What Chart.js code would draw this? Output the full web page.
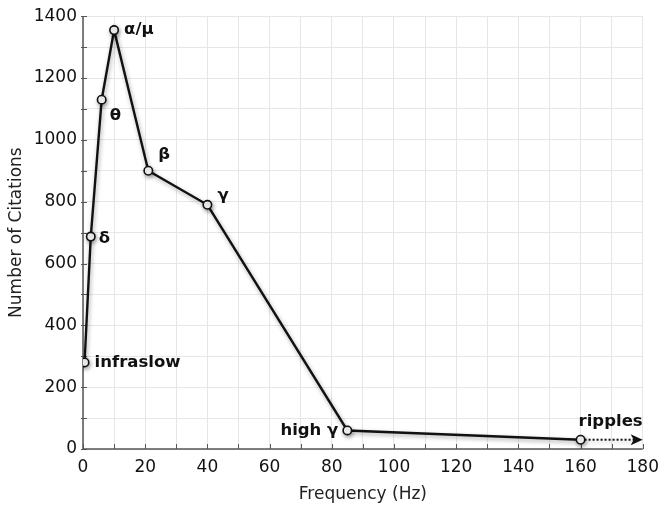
<!DOCTYPE html>
<html>
<head>
<meta charset="utf-8">
<script src="https://cdn.jsdelivr.net/npm/chart.js@4.4.1/dist/chart.umd.min.js"></script>
<style>
  html, body { margin: 0; padding: 0; background: #fff; }
  #wrap { width: 667px; height: 509px; }
</style>
</head>
<body>
<div id="wrap"><canvas id="chart" width="667" height="509"></canvas></div>
<script>
// values
const bandNames = ["infraslow", "δ", "θ", "α/μ", "β", "γ", "high γ", "ripples"];
const frequencies = [0.5, 2.5, 6, 10, 21, 40, 85, 160];
const citations = [280, 687, 1130, 1355, 900, 790, 60, 30];
const rippleTailX = [160, 179];
const rippleTailY = [30, 30];

// label placement around each point (px offsets, text align)
const labelOffsets = [
  [10, 0, "left"], [8, 2, "left"], [8, 16, "left"], [10, 0, "left"],
  [10, -16, "left"], [10, -9, "left"], [-9, 0, "right"], [-2, -18, "left"]
];

const FONT = "'DejaVu Sans', sans-serif";
const AXIS_COLOR = "#555";

const axesPlugin = {
  id: "axesPlugin",
  beforeDatasetsDraw(chart) {
    const { ctx, chartArea, scales } = chart;
    const x = scales.x, y = scales.y;
    ctx.save();
    ctx.strokeStyle = AXIS_COLOR;
    ctx.lineWidth = 1.5;
    ctx.beginPath();
    ctx.moveTo(chartArea.left, chartArea.top);
    ctx.lineTo(chartArea.left, chartArea.bottom);
    ctx.lineTo(chartArea.right, chartArea.bottom);
    ctx.stroke();
    ctx.lineWidth = 1;
    ctx.beginPath();
    x.ticks.forEach((t) => {
      const px = Math.round(x.getPixelForValue(t.value)) + 0.5;
      ctx.moveTo(px, chartArea.bottom);
      ctx.lineTo(px, chartArea.bottom - 5);
    });
    y.ticks.forEach((t) => {
      const py = Math.round(y.getPixelForValue(t.value)) + 0.5;
      ctx.moveTo(chartArea.left - 2, py);
      ctx.lineTo(chartArea.left + 4, py);
    });
    ctx.stroke();
    ctx.restore();
  },
  beforeDatasetDraw(chart) {
    const ctx = chart.ctx;
    ctx.save();
    ctx.shadowColor = "rgba(0,0,0,0.35)";
    ctx.shadowBlur = 4;
    ctx.shadowOffsetX = 1;
    ctx.shadowOffsetY = 2;
  },
  afterDatasetDraw(chart) {
    chart.ctx.restore();
  },
  afterDatasetsDraw(chart) {
    const { ctx } = chart;
    // arrow head at the end of the dotted tail
    const tail = chart.getDatasetMeta(0).data;
    const tip = tail[tail.length - 1];
    ctx.save();
    ctx.fillStyle = "#111";
    ctx.beginPath();
    ctx.moveTo(tip.x + 3, tip.y);
    ctx.lineTo(tip.x - 9, tip.y - 5.5);
    ctx.lineTo(tip.x - 6, tip.y);
    ctx.lineTo(tip.x - 9, tip.y + 5.5);
    ctx.closePath();
    ctx.fill();
    ctx.restore();

    const meta = chart.getDatasetMeta(1);
    ctx.save();
    ctx.fillStyle = "#111";
    ctx.font = "bold 16.5px " + FONT;
    ctx.textBaseline = "middle";
    meta.data.forEach((pt, i) => {
      const [dx, dy, align] = labelOffsets[i];
      ctx.textAlign = align;
      ctx.fillText(bandNames[i], pt.x + dx, pt.y + dy);
    });
    ctx.restore();
  }
};

const ctx = document.getElementById("chart").getContext("2d");
new Chart(ctx, {
  type: "scatter",
  data: {
    datasets: [
      {
        data: rippleTailX.map((v, i) => ({ x: v, y: rippleTailY[i] })),
        showLine: true,
        borderColor: "#111",
        borderWidth: 2,
        borderDash: [2, 2],
        pointRadius: 0,
        order: 2
      },
      {
        data: frequencies.map((v, i) => ({ x: v, y: citations[i] })),
        showLine: true,
        borderColor: "#111",
        borderWidth: 2.4,
        pointRadius: 4.2,
        pointBorderWidth: 1.6,
        pointBackgroundColor: "#fff",
        pointBorderColor: "#111",
        order: 1
      }
    ]
  },
  options: {
    responsive: false,
    animation: false,
    layout: { padding: { left: 6, right: 24, top: 15, bottom: 4 } },
    plugins: {
      legend: { display: false },
      tooltip: { enabled: false }
    },
    scales: {
      x: {
        type: "linear",
        min: 0,
        max: 180,
        border: { display: false },
        grid: { color: "#e6e6e6", drawTicks: false },
        ticks: {
          stepSize: 10,
          padding: 8,
          color: "#111",
          font: { family: FONT, size: 17 },
          maxRotation: 0,
          autoSkip: false,
          callback: (v) => (v % 20 === 0 ? v : "")
        },
        title: {
          display: true,
          text: "Frequency (Hz)",
          color: "#222",
          font: { family: FONT, size: 17 },
          padding: { top: 4, bottom: 0 }
        },
        afterFit: (scale) => { scale.height = 56; }
      },
      y: {
        min: 0,
        max: 1400,
        border: { display: false },
        grid: { color: "#e6e6e6", drawTicks: false },
        ticks: {
          stepSize: 100,
          padding: 6,
          color: "#111",
          font: { family: FONT, size: 17 },
          autoSkip: false,
          callback: (v) => (v % 200 === 0 ? v : "")
        },
        title: {
          display: true,
          text: "Number of Citations",
          color: "#222",
          font: { family: FONT, size: 17 },
          padding: { top: 0, bottom: 4 }
        },
        afterFit: (scale) => { scale.width = 77; }
      }
    }
  },
  plugins: [axesPlugin]
});
</script>
</body>
</html>
